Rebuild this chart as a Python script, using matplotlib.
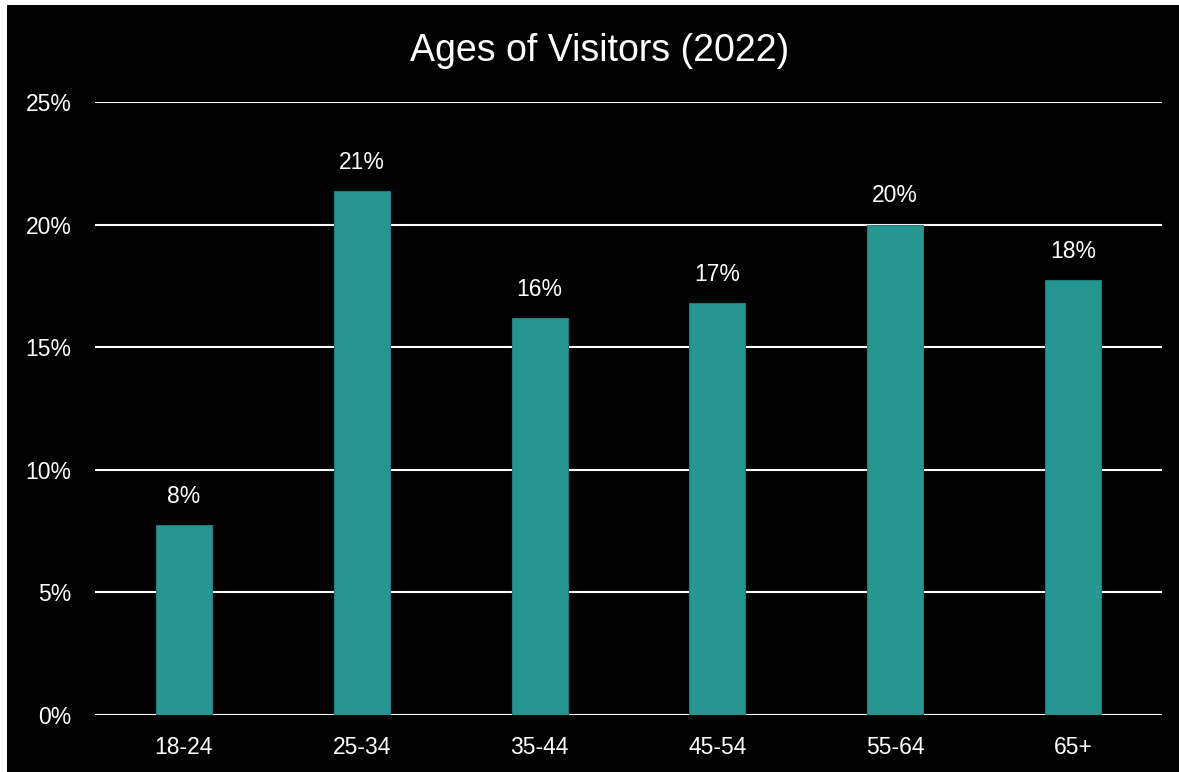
import matplotlib.pyplot as plt
from matplotlib.patches import Rectangle

plt.rcParams['font.family'] = ['Liberation Sans', 'DejaVu Sans']

age_groups = ['18-24', '25-34', '35-44', '45-54', '55-64', '65+']
shares = [7.75, 21.37, 16.2, 16.8, 20.0, 17.75]
yticks = [0, 5, 10, 15, 20, 25]

fig = plt.figure(figsize=(11.79, 7.72), dpi=100, facecolor='white')
# black panel with small white margin on the top and left
fig.patches.append(Rectangle((7 / 1179, 0), 1 - 7 / 1179, 1 - 5 / 772,
                             transform=fig.transFigure, facecolor='black',
                             edgecolor='none', zorder=-1))

ax = fig.add_axes([95 / 1179, 57 / 772, 1067 / 1179, 613 / 772])
ax.set_zorder(2)
ax.set_facecolor('black')

bars = ax.bar(range(len(age_groups)), shares, width=0.315, color='#259690',
              edgecolor='#1e7d78', linewidth=0.8, zorder=3)
for b, v in zip(bars, shares):
    ax.text(b.get_x() + b.get_width() / 2, v + 0.7, f'{round(v):.0f}%',
            ha='center', va='bottom', color='white', fontsize=16.5)

ax.set_xlim(-0.5, len(age_groups) - 0.5)
ax.set_ylim(0, 25)
ax.set_yticks(yticks)
ax.set_yticklabels([f'{t}%' for t in yticks])
ax.set_xticks(range(len(age_groups)))
ax.set_xticklabels(age_groups)
ax.tick_params(colors='white', labelsize=16.5, length=0)
ax.tick_params(axis='y', pad=17)
ax.tick_params(axis='x', pad=15)
ax.grid(axis='y', color='white', linewidth=1.5, zorder=1)
for s in ax.spines.values():
    s.set_visible(False)

t = fig.text(600 / 1179, 1 - 51 / 772, 'Ages of Visitors (2022)', ha='center',
             va='center', color='white', fontsize=27)
t.set_zorder(3)

fig.savefig('out.png', dpi=100, facecolor='white')
